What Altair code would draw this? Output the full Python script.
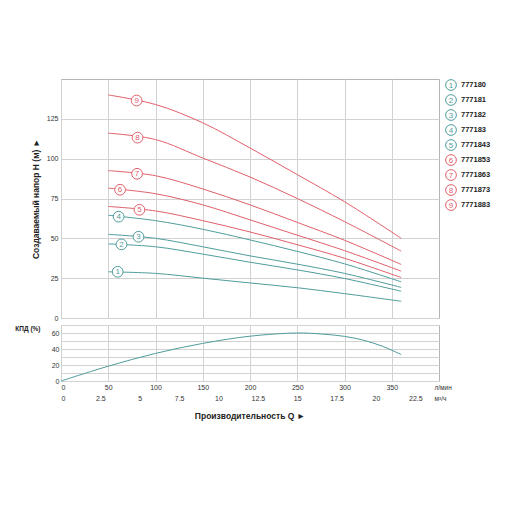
import altair as alt
import pandas as pd

FONT = "Liberation Sans"
TEAL = "#4f9c9c"
RED = "#e0606c"
GRID = "#d2d2d2"
TXT = "#333333"

# ---- data ----
flow_lmin = [50, 100, 150, 200, 250, 300, 360]
head_1 = [29.0, 28.0, 25.0, 22.0, 19.0, 15.3, 10.5]
head_2 = [46.5, 44.7, 40.1, 35.0, 30.2, 24.8, 16.8]
head_3 = [52.5, 50.0, 44.7, 39.0, 33.8, 28.0, 19.2]
head_4 = [64.5, 61.1, 55.7, 49.0, 41.8, 34.0, 22.7]
head_5 = [70.0, 67.2, 61.1, 54.0, 46.0, 37.5, 25.4]
head_6 = [81.5, 78.0, 71.0, 61.6, 52.0, 42.3, 29.4]
head_7 = [92.5, 89.3, 81.0, 71.0, 60.0, 48.8, 33.6]
head_8 = [116.0, 112.0, 100.4, 88.5, 75.0, 60.5, 42.0]
head_9 = [140.0, 134.0, 122.5, 106.7, 90.0, 73.0, 50.0]
curve_heads = [head_1, head_2, head_3, head_4, head_5, head_6, head_7, head_8, head_9]
curve_colors = [TEAL] * 4 + [RED] * 5

label_flow = [60, 64, 82, 61, 83, 62.5, 80.5, 81, 80]
label_head = [29.0, 46.2, 51.0, 63.6, 67.9, 80.5, 90.5, 113.2, 136.5]

models = ["777180", "777181", "777182", "777183", "7771843",
          "7771853", "7771863", "7771873", "7771883"]
legend_colors = [TEAL] * 5 + [RED] * 4

eff_flow = [0, 50, 100, 150, 200, 250, 275, 300, 320, 340, 360]
eff_pct = [0, 18.5, 34.5, 47.0, 56.0, 60.0, 58.8, 55.8, 51.0, 43.5, 33.0]

lmin_ticks = [0, 50, 100, 150, 200, 250, 300, 350]
m3h_ticks = [0, 2.5, 5, 7.5, 10, 12.5, 15, 17.5, 20, 22.5]
head_ticks = [0, 25, 50, 75, 100, 125]
eff_ticks = [0, 10, 20, 30, 40, 50, 60, 70]

# ---- tables ----
rows = []
for i, hs in enumerate(curve_heads):
    for q, h in zip(flow_lmin, hs):
        rows.append({"q": q, "h": h, "curve": i + 1, "color": curve_colors[i]})
df_lines = pd.DataFrame(rows)
df_labels = pd.DataFrame({"q": label_flow, "h": label_head,
                          "num": [str(i + 1) for i in range(9)], "color": curve_colors})
df_legend = pd.DataFrame({"i": list(range(9)), "num": [str(i + 1) for i in range(9)],
                          "model": models, "color": legend_colors})
df_eff = pd.DataFrame({"q": eff_flow, "e": eff_pct})
df_m3h = pd.DataFrame({"qlm": [t * 1000 / 60 for t in m3h_ticks]})

W, H1, H2 = 378, 239, 56
xs = alt.Scale(domain=[0, 400], nice=False, zero=False)
ys = alt.Scale(domain=[0, 150], nice=False)

x_main = alt.X("q:Q", scale=xs,
               axis=alt.Axis(values=lmin_ticks, labels=False, ticks=False, domain=False,
                             title=None, grid=True, gridColor=GRID))
y_main = alt.Y("h:Q", scale=ys,
               axis=alt.Axis(values=head_ticks, ticks=False, domain=False, grid=True,
                             gridColor=GRID, labelFontSize=7, labelFont=FONT,
                             labelColor=TXT, labelPadding=3,
                             title="Создаваемый напор H (м) ►", titleFont=FONT,
                             titleFontSize=8.5, titleFontWeight="bold", titleColor="#222",
                             titlePadding=6))

lines = alt.Chart(df_lines).mark_line(strokeWidth=1, interpolate="catmull-rom").encode(
    x=x_main, y=y_main,
    color=alt.Color("color:N", scale=None), detail="curve:N")
circles = alt.Chart(df_labels).mark_point(
    shape="circle", size=115, fill="white", fillOpacity=1, opacity=1, strokeWidth=1).encode(
    x="q:Q", y="h:Q", stroke=alt.Stroke("color:N", scale=None))
nums = alt.Chart(df_labels).mark_text(fontSize=8, font=FONT, baseline="middle",
                                      align="center", dy=0.5).encode(
    x="q:Q", y="h:Q", text="num:N", color=alt.Color("color:N", scale=None))

leg_y = alt.Y("i:Q", scale=alt.Scale(domain=[-0.4, 15.53], reverse=True, nice=False, zero=False),
              axis=None)
leg_pts = alt.Chart(df_legend).mark_point(
    shape="circle", size=115, fill="white", fillOpacity=1, opacity=1, strokeWidth=1).encode(
    x=alt.value(390), y=leg_y, stroke=alt.Stroke("color:N", scale=None))
leg_num = alt.Chart(df_legend).mark_text(fontSize=8, font=FONT, baseline="middle",
                                         align="center", dy=0.5).encode(
    x=alt.value(390), y=leg_y, text="num:N", color=alt.Color("color:N", scale=None))
leg_txt = alt.Chart(df_legend).mark_text(fontSize=7.5, font=FONT, fontWeight="bold",
                                         baseline="middle", align="left", color="#222").encode(
    x=alt.value(400), y=leg_y, text="model:N")

main = alt.layer(alt.layer(lines, circles, nums),
                 alt.layer(leg_pts, leg_num, leg_txt)).resolve_scale(y="independent").properties(
    width=W, height=H1)

x_eff = alt.X("q:Q", scale=xs,
              axis=alt.Axis(values=lmin_ticks, ticks=False, domain=False, grid=True,
                            gridColor=GRID, labelFontSize=7, labelFont=FONT, labelColor=TXT,
                            labelPadding=2, title="л/мин", titleX=373, titleY=3,
                            titleAlign="left", titleBaseline="top", titleFont=FONT,
                            titleFontSize=6.5, titleFontWeight="normal", titleColor=TXT))
y_eff = alt.Y("e:Q", scale=alt.Scale(domain=[0, 70], nice=False),
              axis=alt.Axis(values=eff_ticks, labelExpr="datum.value % 20 == 0 && datum.value < 70 ? datum.label : ''",
                            ticks=False, domain=False, grid=True, gridColor=GRID,
                            labelFontSize=7, labelFont=FONT, labelColor=TXT, labelPadding=2,
                            title="КПД (%)", titleAngle=0, titleX=-21, titleY=3,
                            titleAlign="right", titleBaseline="middle", titleFont=FONT,
                            titleFontSize=6.5, titleFontWeight="bold", titleColor="#222"))
eff = alt.Chart(df_eff).mark_line(color=TEAL, strokeWidth=1, interpolate="catmull-rom").encode(
    x=x_eff, y=y_eff)
m3h = alt.Chart(df_m3h).mark_point(opacity=0).encode(
    x=alt.X("qlm:Q", scale=xs,
            axis=alt.Axis(orient="bottom", offset=11, values=list(df_m3h["qlm"]),
                          labelExpr="format(datum.value * 0.06, '.1~f')",
                          ticks=False, domain=False, grid=False, labelFontSize=7,
                          labelFont=FONT, labelColor=TXT, labelPadding=2,
                          title="м³/ч", titleX=373, titleY=3, titleAlign="left",
                          titleBaseline="top", titleFont=FONT, titleFontSize=6.5,
                          titleFontWeight="normal", titleColor=TXT)),
    y=alt.value(H2 / 2))

lower = alt.layer(eff, m3h).resolve_axis(x="independent").properties(
    width=W, height=H2,
    title=alt.TitleParams("Производительность Q ►", orient="bottom", anchor="middle",
                          frame="group", font=FONT, fontSize=8.5, fontWeight="bold",
                          color="#222", offset=10))

chart = alt.vconcat(main, lower, spacing=7, bounds="flush").properties(
    padding={"left": 6, "top": 69, "right": 0, "bottom": 0}
).configure_view(stroke="#b5b5b5", strokeWidth=1)

chart.save("out.html", embed_options={"renderer": "svg", "actions": False})
